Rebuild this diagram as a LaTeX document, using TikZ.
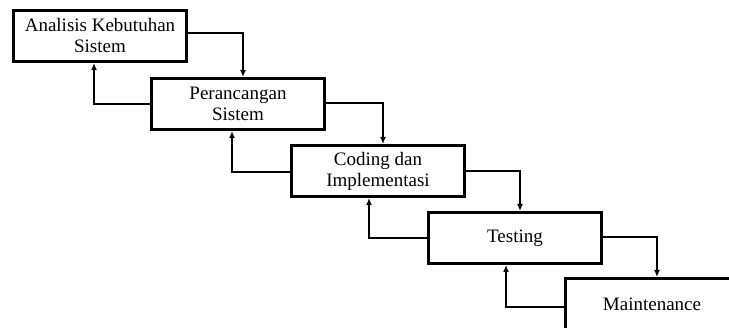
\documentclass[tikz,border=0pt]{standalone}
\usepackage{fontspec}
\setmainfont{Liberation Serif}
\usetikzlibrary{arrows.meta}
\begin{document}
\begin{tikzpicture}[x=1pt,y=-1pt,
  phase/.style={draw=black, line width=3pt, rectangle, minimum width=173pt, minimum height=51pt,
    inner sep=0pt, align=center, font=\fontsize{19}{21}\selectfont},
  flow/.style={draw=black, line width=2pt, -{Latex[length=7pt,width=6pt]}}]
\path[use as bounding box] (0,0) rectangle (729,328);
\clip (0,0) rectangle (729,328);
\node[phase] (b1) at (100,36) {Analisis Kebutuhan\\Sistem};
\node[phase] (b2) at (238,104) {Perancangan\\Sistem};
\node[phase] (b3) at (378,171) {Coding dan\\Implementasi};
\node[phase] (b4) at (515,238) {Testing};
\node[phase] (b5) at (652,304) {Maintenance};
% forward flow
\draw[flow] ([yshift=3pt]b1.east) -| ([xshift=5pt]b2.north);
\draw[flow] ([yshift=1pt]b2.east) -| ([xshift=5pt]b3.north);
\draw[flow] (b3.east) -| ([xshift=5pt]b4.north);
\draw[flow] ([yshift=1pt]b4.east) -| ([xshift=5pt]b5.north);
% feedback
\draw[flow] (b2.west) -| ([xshift=-6pt]b1.south);
\draw[flow] ([yshift=-1pt]b3.west) -| ([xshift=-6pt]b2.south);
\draw[flow] (b4.west) -| ([xshift=-9pt]b3.south);
\draw[flow] ([yshift=-3pt]b5.west) -| ([xshift=-9pt]b4.south);
\end{tikzpicture}
\end{document}
